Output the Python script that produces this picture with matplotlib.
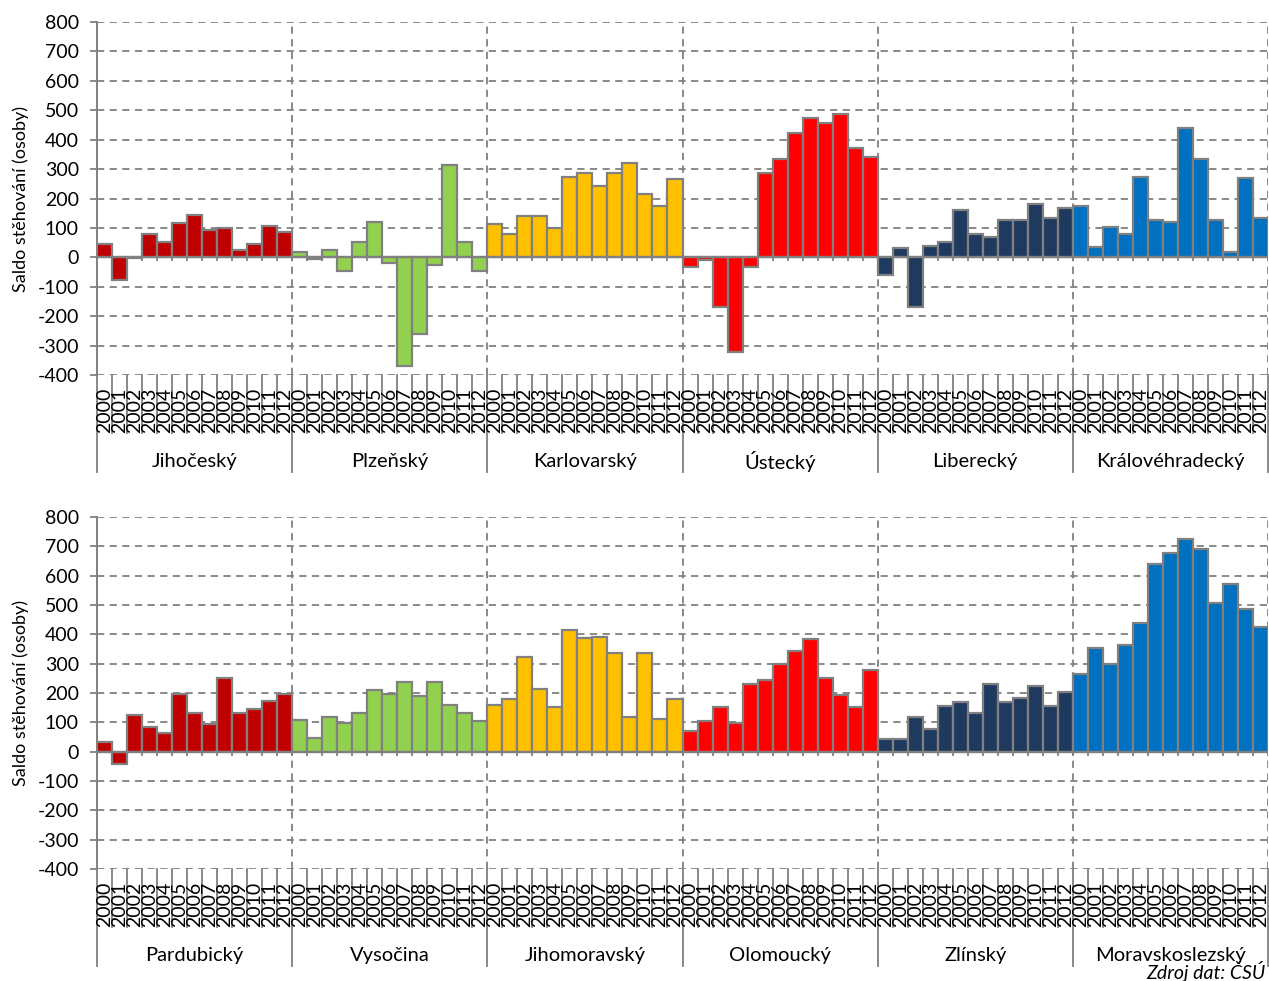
import numpy as np
import matplotlib
matplotlib.use("Agg")
import matplotlib.pyplot as plt
from matplotlib.transforms import blended_transform_factory

plt.rcParams['font.family'] = ['Lato', 'DejaVu Sans']
plt.rcParams['axes.unicode_minus'] = False

years = [str(y) for y in range(2000, 2013)]

regions_top = ["Jihočeský", "Plzeňský", "Karlovarský", "Ústecký", "Liberecký", "Královéhradecký"]
regions_bottom = ["Pardubický", "Vysočina", "Jihomoravský", "Olomoucký", "Zlínský", "Moravskoslezský"]

jihocesky = [44, -78, -3, 78, 51, 118, 145, 93, 99, 25, 44, 106, 85]
plzensky = [18, -7, 26, -48, 52, 120, -20, -368, -259, -26, 314, 51, -47]
karlovarsky = [114, 81, 140, 140, 101, 274, 288, 241, 288, 322, 214, 174, 267]
ustecky = [-34, -10, -168, -323, -34, 288, 333, 422, 473, 455, 488, 373, 341]
liberecky = [-60, 33, -169, 40, 53, 160, 81, 68, 126, 126, 180, 134, 168]
kralovehradecky = [174, 34, 102, 81, 274, 127, 119, 441, 334, 127, 19, 268, 134]

pardubicky = [34, -42, 125, 85, 65, 198, 133, 93, 252, 133, 146, 173, 197]
vysocina = [107, 47, 119, 99, 133, 211, 198, 239, 191, 239, 158, 133, 104]
jihomoravsky = [158, 179, 324, 212, 153, 415, 389, 391, 337, 119, 337, 113, 179]
olomoucky = [71, 104, 153, 99, 230, 245, 299, 344, 383, 252, 192, 153, 278]
zlinsky = [43, 43, 117, 76, 157, 170, 131, 231, 170, 184, 225, 157, 203]
moravskoslezsky = [265, 352, 299, 365, 438, 640, 678, 725, 692, 506, 573, 486, 424]

colors = ["#C00000", "#92D050", "#FFC000", "#FF0000", "#1F3A5F", "#0070C0"]

W, H = 1269, 981
fig = plt.figure(figsize=(W / 100, H / 100), dpi=100)

grey = "#808080"


def panel(rect, names, series):
    ax = fig.add_axes(rect)
    axh = rect[3] * H
    n = len(years)
    vals = np.concatenate([np.array(s, float) for s in series])
    cols = [c for c in colors for _ in range(n)]
    x = np.arange(len(vals)) + 0.5
    ax.set_xlim(0, len(vals))
    ax.set_ylim(-400, 800)
    # gridlines
    for yv in range(-400, 801, 100):
        if yv == 0:
            continue
        ax.axhline(yv, color=grey, lw=1.3, ls=(0, (4, 3)), zorder=1)
    for k in range(1, len(names) + 1):
        ax.axvline(k * n, color=grey, lw=1.3, ls=(0, (4, 3)), zorder=1)
    ax.bar(x, vals, width=1.0, color=cols, edgecolor=grey, linewidth=1.6, zorder=3)
    ax.axhline(0, color=grey, lw=1.6, zorder=4)
    ax.vlines(np.arange(len(vals) + 1), -14, 0, color=grey, lw=1.3, zorder=4)
    for s in ["top", "right", "bottom"]:
        ax.spines[s].set_visible(False)
    ax.spines["left"].set_color(grey)
    ax.spines["left"].set_linewidth(1.4)
    ax.set_yticks(range(-400, 801, 100))
    ax.tick_params(axis="y", colors=grey, length=5, width=1.3, labelsize=14,
                   labelcolor="black", pad=8)
    ax.set_xticks([])
    tr = blended_transform_factory(ax.transData, ax.transAxes)
    # year labels and separators
    for i, v in enumerate(vals):
        ax.text(i + 0.5, -13 / axh, years[i % n], rotation=90, ha="center", va="top",
                fontsize=14, transform=tr, clip_on=False)
    for i in range(len(vals) + 1):
        if i % n == 0:
            ax.plot([i, i], [0, -97 / axh], color=grey, lw=1.3, transform=tr, clip_on=False)
        else:
            ax.plot([i, i], [0, -58 / axh], color=grey, lw=1.3, transform=tr, clip_on=False)
    for k, name in enumerate(names):
        ax.text(k * n + n / 2, -86 / axh, name, ha="center", va="center", fontsize=14.5,
                transform=tr, clip_on=False)
    ax.set_ylabel("Saldo stěhování (osoby)", fontsize=13, labelpad=6)
    return ax


left = 97 / W
width = (1268 - 97) / W
ax1 = panel([left, 1 - 375 / H, width, 353 / H], regions_top,
            [jihocesky, plzensky, karlovarsky, ustecky, liberecky, kralovehradecky])
ax2 = panel([left, 1 - 869 / H, width, 352 / H], regions_bottom,
            [pardubicky, vysocina, jihomoravsky, olomoucky, zlinsky, moravskoslezsky])

fig.text(1265 / W, 1 - 971 / H, "Zdroj dat: ČSÚ", ha="right", va="center",
         fontsize=14, style="italic")

fig.savefig("out.png", dpi=100)
